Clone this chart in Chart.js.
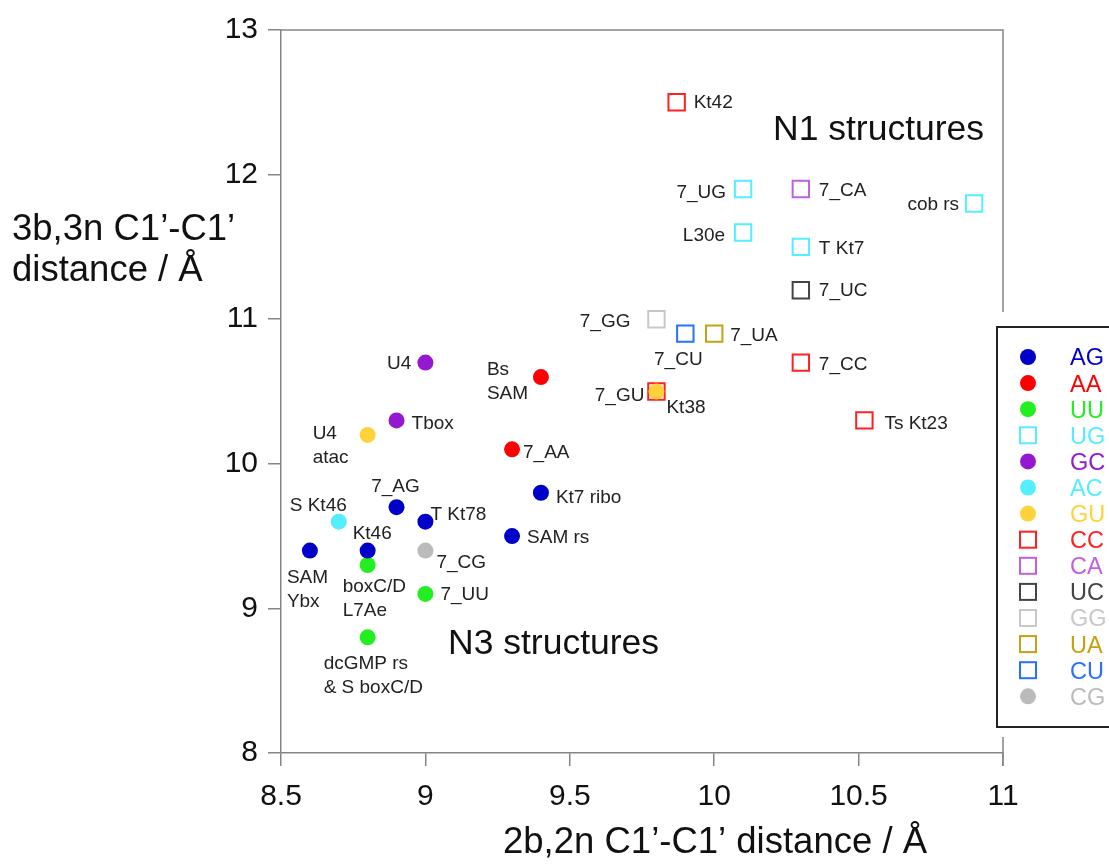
<!DOCTYPE html>
<html>
<head>
<meta charset="utf-8">
<script src="https://cdn.jsdelivr.net/npm/chart.js@4.4.1/dist/chart.umd.min.js"></script>
<style>
  html, body { margin: 0; padding: 0; background: #fff; }
  #wrap { width: 1109px; height: 866px; position: relative; }
</style>
</head>
<body>
<div id="wrap"><canvas id="chart"></canvas></div>
<script>
// base pair types, in legend order
const pairTypes = ['AG', 'AA', 'UU', 'UG', 'GC', 'AC', 'GU', 'CC', 'CA', 'UC', 'GG', 'UA', 'CU', 'CG'];
const pairColors = ['#0000c8', '#ff0000', '#22ee22', '#55eeff', '#9418d0', '#55eeff', '#ffd23c',
                    '#ff2020', '#c060e0', '#444444', '#c8c8c8', '#c8a010', '#2a70ff', '#bbbbbb'];
const pairShapes = ['circle', 'circle', 'circle', 'rect', 'circle', 'circle', 'circle',
                    'rect', 'rect', 'rect', 'rect', 'rect', 'rect', 'circle'];

// x = 2b,2n distance, y = 3b,3n distance
const agNames = ['SAM\nYbx', 'Kt46', '7_AG', 'T Kt78', 'Kt7 ribo', 'SAM rs'];
const agX = [8.6, 8.8, 8.9, 9.0, 9.4, 9.3];
const agY = [9.4, 9.4, 9.7, 9.6, 9.8, 9.5];

const aaNames = ['Bs\nSAM', '7_AA'];
const aaX = [9.4, 9.3];
const aaY = [10.6, 10.1];

const uuNames = ['boxC/D\nL7Ae', '7_UU', 'dcGMP rs\n& S boxC/D'];
const uuX = [8.8, 9.0, 8.8];
const uuY = [9.3, 9.1, 8.8];

const ugNames = ['7_UG', 'L30e', 'T Kt7', 'cob rs'];
const ugX = [10.1, 10.1, 10.3, 10.9];
const ugY = [11.9, 11.6, 11.5, 11.8];

const gcNames = ['U4', 'Tbox'];
const gcX = [9.0, 8.9];
const gcY = [10.7, 10.3];

const acNames = ['S Kt46'];
const acX = [8.7];
const acY = [9.6];

const guNames = ['U4\natac', '7_GU'];
const guX = [8.8, 9.8];
const guY = [10.2, 10.5];

const ccNames = ['Kt42', '7_CC', 'Kt38', 'Ts Kt23'];
const ccX = [9.87, 10.3, 9.8, 10.52];
const ccY = [12.5, 10.7, 10.5, 10.3];

const caNames = ['7_CA'];
const caX = [10.3];
const caY = [11.9];

const ucNames = ['7_UC'];
const ucX = [10.3];
const ucY = [11.2];

const ggNames = ['7_GG'];
const ggX = [9.8];
const ggY = [11.0];

const uaNames = ['7_UA'];
const uaX = [10.0];
const uaY = [10.9];

const cuNames = ['7_CU'];
const cuX = [9.9];
const cuY = [10.9];

const cgNames = ['7_CG'];
const cgX = [9.0];
const cgY = [9.4];

const xTicks = [8.5, 9, 9.5, 10, 10.5, 11];
const yTicks = [8, 9, 10, 11, 12, 13];

const allNames = [agNames, aaNames, uuNames, ugNames, gcNames, acNames, guNames, ccNames, caNames, ucNames, ggNames, uaNames, cuNames, cgNames];
const allX = [agX, aaX, uuX, ugX, gcX, acX, guX, ccX, caX, ucX, ggX, uaX, cuX, cgX];
const allY = [agY, aaY, uuY, ugY, gcY, acY, guY, ccY, caY, ucY, ggY, uaY, cuY, cgY];

// label offsets from the point, in px: [dx, dy, align]
const labelPlacement = {
    'SAM\nYbx': [-23, 25, 'left'],
    'Kt46': [-15, -19, 'left'],
    '7_AG': [-1, -22, 'center'],
    'T Kt78': [5, -9, 'left'],
    'Kt7 ribo': [15, 3, 'left'],
    'SAM rs': [15, 0, 'left'],
    'Bs\nSAM': [-54, -9, 'left'],
    '7_AA': [11, 1, 'left'],
    'boxC/D\nL7Ae': [-25, 20, 'left'],
    '7_UU': [15, -1, 'left'],
    'dcGMP rs\n& S boxC/D': [-44, 24, 'left'],
    '7_UG': [-17, 2, 'right'],
    'L30e': [-18, 1, 'right'],
    'T Kt7': [18, 0, 'left'],
    'cob rs': [-15, -1, 'right'],
    'U4': [-14, -1, 'right'],
    'Tbox': [15, 1, 'left'],
    'S Kt46': [8, -18, 'right'],
    'U4\natac': [-55, -3, 'left'],
    '7_GU': [-12, 2, 'right'],
    'Kt42': [17, -2, 'left'],
    '7_CC': [18, 0, 'left'],
    'Kt38': [10, 14, 'left'],
    'Ts Kt23': [20, 1, 'left'],
    '7_CA': [18, 0, 'left'],
    '7_UC': [18, -2, 'left'],
    '7_GG': [-26, 1, 'right'],
    '7_UA': [16, 0, 'left'],
    '7_CU': [-7, 24, 'center'],
    '7_CG': [11, 10, 'left']
};

const FONT = '"Liberation Sans", Arial, Helvetica, sans-serif';
const AXIS_GREY = '#858585';

const datasets = pairTypes.map((type, i) => {
    const isSquare = pairShapes[i] === 'rect';
    return {
        label: type,
        names: allNames[i],
        data: allX[i].map((x, j) => ({ x: x, y: allY[i][j] })),
        pointStyle: pairShapes[i],
        pointRadius: isSquare ? 11.6 : 8,
        pointHoverRadius: isSquare ? 11.6 : 8,
        backgroundColor: isSquare ? 'rgba(0,0,0,0)' : pairColors[i],
        borderColor: pairColors[i],
        borderWidth: isSquare ? 2 : 0,
        showLine: false
    };
});

// point labels, frame, titles and legend box
const decorations = {
    id: 'decorations',
    afterDatasetsDraw(chart) {
        const ctx = chart.ctx;
        const area = chart.chartArea;
        ctx.save();

        // top and right frame lines
        ctx.strokeStyle = AXIS_GREY;
        ctx.lineWidth = 1.5;
        ctx.beginPath();
        ctx.moveTo(area.left, area.top);
        ctx.lineTo(area.right, area.top);
        ctx.lineTo(area.right, area.bottom + 13);
        ctx.stroke();

        // labels next to points
        ctx.fillStyle = '#222';
        ctx.font = '19px ' + FONT;
        ctx.textBaseline = 'middle';
        chart.data.datasets.forEach((ds, di) => {
            const meta = chart.getDatasetMeta(di);
            meta.data.forEach((pt, j) => {
                const name = ds.names[j];
                const place = labelPlacement[name] || [14, 0, 'left'];
                ctx.textAlign = place[2];
                name.split('\n').forEach((line, k) => {
                    ctx.fillText(line, pt.x + place[0], pt.y + place[1] + 2 + k * 24);
                });
            });
        });

        // region annotations
        ctx.fillStyle = '#111';
        ctx.font = '35.5px ' + FONT;
        ctx.textAlign = 'left';
        ctx.fillText('N1 structures', 773, 130);
        ctx.fillText('N3 structures', 448, 644);

        // axis titles
        ctx.font = '36.5px ' + FONT;
        ctx.textBaseline = 'alphabetic';
        ctx.fillText('3b,3n C1\u2019-C1\u2019', 12, 240);
        ctx.fillText('distance / \u00C5', 12, 281);
        ctx.textAlign = 'center';
        ctx.fillText('2b,2n C1\u2019-C1\u2019 distance / \u00C5', 715, 853);

        // legend box
        const boxLeft = 997, boxTop = 327, boxBottom = 727;
        ctx.fillStyle = '#fff';
        ctx.fillRect(boxLeft - 4, boxTop - 15, chart.width - boxLeft + 4, boxBottom - boxTop + 25);
        ctx.strokeStyle = '#222';
        ctx.lineWidth = 2;
        ctx.strokeRect(boxLeft, boxTop, chart.width - boxLeft + 10, boxBottom - boxTop);

        ctx.font = '23.5px ' + FONT;
        ctx.textAlign = 'left';
        ctx.textBaseline = 'middle';
        chart.data.datasets.forEach((ds, i) => {
            const cy = 357 + i * 26.1;
            const cx = 1028;
            if (pairShapes[i] === 'rect') {
                ctx.strokeStyle = pairColors[i];
                ctx.lineWidth = 2;
                ctx.strokeRect(cx - 8, cy - 8, 16, 16);
            } else {
                ctx.fillStyle = pairColors[i];
                ctx.beginPath();
                ctx.arc(cx, cy, 8, 0, Math.PI * 2);
                ctx.fill();
            }
            ctx.fillStyle = pairColors[i];
            ctx.fillText(ds.label, 1070, cy + 2);
        });

        ctx.restore();
    }
};

const ctx = document.getElementById('chart').getContext('2d');
const chart = new Chart(ctx, {
    type: 'scatter',
    data: { datasets: datasets },
    options: {
        responsive: true,
        maintainAspectRatio: false,
        animation: false,
        events: [],
        layout: { padding: { top: 30, right: 106, left: 0, bottom: 0 } },
        plugins: {
            legend: { display: false },
            tooltip: { enabled: false }
        },
        scales: {
            x: {
                type: 'linear',
                min: 8.5,
                max: 11,
                afterFit(scale) { scale.height = 113; },
                afterBuildTicks(scale) { scale.ticks = xTicks.map(v => ({ value: v })); },
                ticks: {
                    color: '#111',
                    font: { family: FONT, size: 30 },
                    padding: 13,
                    callback: v => String(v)
                },
                grid: { drawOnChartArea: false, drawTicks: true, tickLength: 13, color: AXIS_GREY, lineWidth: 1.5 },
                border: { display: true, color: AXIS_GREY, width: 1.5 }
            },
            y: {
                type: 'linear',
                min: 8,
                max: 13,
                afterFit(scale) { scale.width = 281; },
                afterBuildTicks(scale) { scale.ticks = yTicks.map(v => ({ value: v })); },
                ticks: {
                    color: '#111',
                    font: { family: FONT, size: 30 },
                    padding: 10,
                    callback: v => String(v)
                },
                grid: { drawOnChartArea: false, drawTicks: true, tickLength: 13, color: AXIS_GREY, lineWidth: 1.5 },
                border: { display: true, color: AXIS_GREY, width: 1.5 }
            }
        }
    },
    plugins: [decorations]
});
</script>
</body>
</html>
